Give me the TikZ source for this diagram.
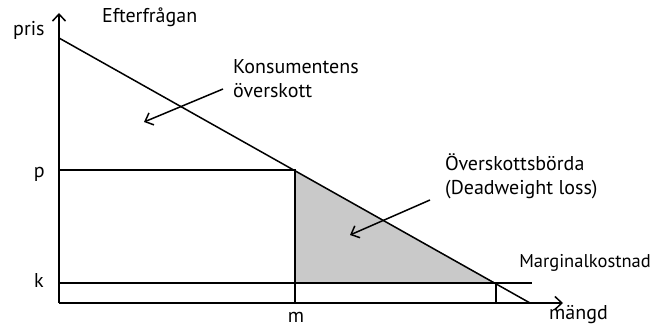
\documentclass[tikz,border=0pt]{standalone}
\usepackage{fontspec}
\setmainfont{PT Sans}
\usetikzlibrary{arrows.meta}
\begin{document}
\begin{tikzpicture}[x=1pt,y=-1pt,
  ln/.style={line width=1.5pt,black},
  lbl/.style={font=\fontsize{20}{24.5}\selectfont,inner sep=0pt},
  barb/.style={-{Straight Barb[length=7pt,width=13pt,line width=1.5pt]}}]
\useasboundingbox (0,0) rectangle (653,329);
\coordinate (O) at (59,303);
\coordinate (Ytop) at (59,13);
\coordinate (Xend) at (563,303);
\coordinate (D0) at (59,38);
\coordinate (D1) at (530,303);
\coordinate (E) at (295,170);
\coordinate (Pm) at (295,283);
\coordinate (Pk) at (496,283);
\coordinate (Mb) at (295,303);
\coordinate (Kb) at (496,303);
\coordinate (P0) at (59,170);
\coordinate (K0) at (59,283);
\coordinate (K1) at (532,283);
\fill[gray!42] (E) -- (Pm) -- (Pk) -- cycle;
\draw[ln] (P0) -- (E) -- (Mb);
\draw[ln] (K0) -- (K1);
\draw[ln] (Pk) -- (Kb);
\draw[ln] (D0) -- (D1);
\draw[ln,barb] (O) -- (Ytop);
\draw[ln,barb] (O) -- (Xend);
\node[lbl,anchor=base west] (pris) at (13,36) {pris};
\node[lbl,anchor=base west] (eft) at (102,23) {Efterfrågan};
\node[lbl,anchor=base east] (p) at (45,177) {p};
\node[lbl,anchor=base east] (k) at (44,287) {k};
\node[lbl,anchor=base] (m) at (296,322) {m};
\node[lbl,anchor=base west] (mangd) at (549,319) {mängd};
\node[lbl,anchor=base east,font=\fontsize{18.5}{22}\selectfont] (mk) at (651,267) {Marginalkostnad};
\node[lbl,anchor=north west,align=left] (ko) at (233,59) {Konsumentens\\överskott};
\node[lbl,anchor=north west,align=left] (dw) at (445,153) {Överskottsbörda\\(Deadweight loss)};
\coordinate (a1s) at (223,89);
\coordinate (a1e) at (144,122);
\coordinate (a2s) at (430,200);
\coordinate (a2e) at (350,235);
\draw[ln,barb] (a1s) -- (a1e);
\draw[ln,barb] (a2s) -- (a2e);
\end{tikzpicture}
\end{document}
